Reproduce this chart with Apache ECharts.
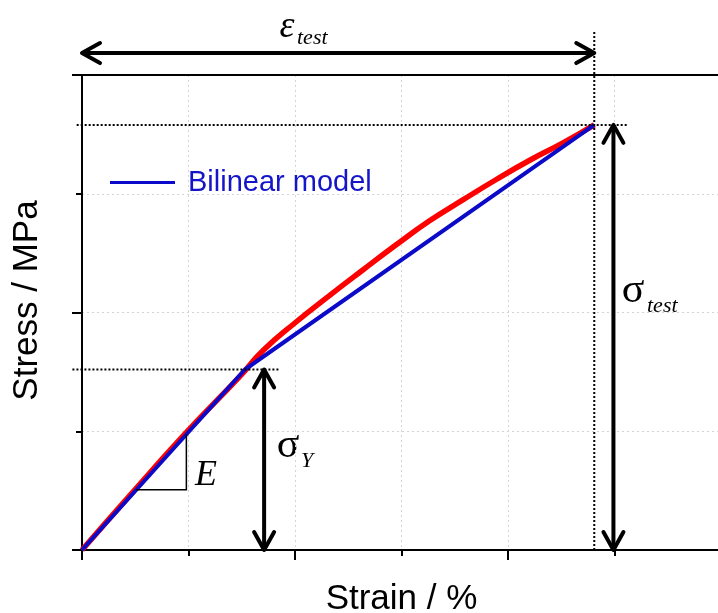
<!DOCTYPE html>
<html>
<head>
<meta charset="utf-8">
<script src="https://cdn.jsdelivr.net/npm/echarts@6/dist/echarts.min.js"></script>
<style>
  html, body { margin: 0; padding: 0; background: #fff; }
  #chart { width: 718px; height: 613px; }
</style>
</head>
<body>
<div id="chart"></div>
<script>
// Measured stress–strain response (strain, stress in plot units)
const measuredStrain = [0, 0.45, 0.98, 1.48, 1.70, 2.01, 2.32, 2.64, 2.95, 3.26, 3.58, 3.89, 4.20, 4.52, 4.81];
const measuredStress = [0, 0.46, 0.99, 1.46, 1.68, 1.92, 2.14, 2.36, 2.57, 2.77, 2.95, 3.12, 3.28, 3.43, 3.58];

// Bilinear model: origin -> yield point -> end of test
const strainYield = 1.53, stressYield = 1.52;
const strainTest = 4.81, stressTest = 3.58;
const modelStrain = [0, strainYield, strainTest];
const modelStress = [0, stressYield, stressTest];

// Annotation placement (data units)
const epsArrowLevel = 4.185;     // height of the ε_test dimension arrow
const sigmaTestArrowX = 4.99;    // x of the σ_test dimension arrow
const sigmaYArrowX = 1.71;       // x of the σ_Y dimension arrow
const slopeStart = 0.51, slopeEnd = 0.98;  // E slope triangle span

const zipPts = (xs, ys) => xs.map((x, i) => [x, ys[i]]);
const E = stressYield / strainYield;

// double-headed dimension arrows: [x1, y1, x2, y2]
const arrows = [
  [0, epsArrowLevel, strainTest, epsArrowLevel],
  [sigmaTestArrowX, 0, sigmaTestArrowX, stressTest],
  [sigmaYArrowX, 0, sigmaYArrowX, stressYield]
];
// dotted guide lines: [x1, y1, x2, y2]
const guides = [
  [-0.05, stressTest, 5.12, stressTest],
  [-0.09, stressYield, 1.86, stressYield],
  [strainTest, 0, strainTest, 4.37]
];
// slope triangle: [x1, y1, x2, y2] along the elastic branch
const triangle = [[slopeStart, E * slopeStart, slopeEnd, E * slopeEnd]];

const chart = echarts.init(document.getElementById('chart'), null, { renderer: 'canvas' });

const gridLine = { color: '#d4d4d4', width: 1, type: [2, 3] };
const blackLine = { color: '#000', width: 2 };
const sansFont = 'Arial, "Liberation Sans", sans-serif';
const serifFont = '"Times New Roman", "Liberation Serif", serif';

function chevron(tip, dir) {
  const L = 18, W = 10;
  const bx = tip[0] - dir[0] * L, by = tip[1] - dir[1] * L;
  const nx = -dir[1], ny = dir[0];
  return {
    type: 'polyline',
    shape: { points: [[bx + nx * W, by + ny * W], tip, [bx - nx * W, by - ny * W]] },
    style: { stroke: '#000', lineWidth: 4, fill: null, lineJoin: 'round', lineCap: 'round' }
  };
}

function renderArrow(params, api) {
  const a = api.coord([api.value(0), api.value(1)]);
  const b = api.coord([api.value(2), api.value(3)]);
  const len = Math.hypot(b[0] - a[0], b[1] - a[1]);
  const d = [(b[0] - a[0]) / len, (b[1] - a[1]) / len];
  return {
    type: 'group',
    children: [
      { type: 'line', shape: { x1: a[0], y1: a[1], x2: b[0], y2: b[1] },
        style: { stroke: '#000', lineWidth: 4 } },
      chevron(b, d),
      chevron(a, [-d[0], -d[1]])
    ]
  };
}

function renderGuide(params, api) {
  const a = api.coord([api.value(0), api.value(1)]);
  const b = api.coord([api.value(2), api.value(3)]);
  return { type: 'line', shape: { x1: a[0], y1: a[1], x2: b[0], y2: b[1] },
    style: { stroke: '#000', lineWidth: 2, lineDash: [2, 2] } };
}

function renderTriangle(params, api) {
  const a = api.coord([api.value(0), api.value(1)]);
  const b = api.coord([api.value(2), api.value(3)]);
  return { type: 'polyline', shape: { points: [a, [b[0], a[1]], b] },
    style: { stroke: '#000', lineWidth: 1.5, fill: null } };
}

const option = {
  animation: false,
  backgroundColor: '#fff',
  grid: { left: 82, top: 75, width: 639, height: 475, containLabel: false, outerBoundsMode: 'none' },
  legend: {
    data: ['Bilinear model'],
    left: 110, top: 168, padding: 0,
    icon: 'rect', itemWidth: 65, itemHeight: 3,
    textStyle: { fontSize: 29, fontFamily: sansFont, color: '#1414c8', padding: [0, 0, 0, 8] }
  },
  xAxis: [
    {
      type: 'value', min: 0, max: 6, interval: 2, position: 'bottom',
      axisLine: { show: true, onZero: false, lineStyle: blackLine },
      axisTick: { show: true, length: 10, lineStyle: blackLine },
      minorTick: { show: true, splitNumber: 2, length: 6, lineStyle: blackLine },
      axisLabel: { show: false },
      splitLine: { show: true, lineStyle: gridLine },
      minorSplitLine: { show: true, lineStyle: gridLine },
      name: 'Strain / %', nameLocation: 'middle', nameGap: 32,
      nameTextStyle: { fontSize: 35, fontFamily: sansFont, color: '#000' }
    },
    {
      type: 'value', min: 0, max: 6, interval: 2, position: 'top',
      axisLine: { show: true, onZero: false, lineStyle: blackLine },
      axisTick: { show: false }, axisLabel: { show: false }, splitLine: { show: false }
    }
  ],
  yAxis: {
    type: 'value', min: 0, max: 4, interval: 2,
    axisLine: { show: true, onZero: false, lineStyle: blackLine },
    axisTick: { show: true, length: 10, lineStyle: blackLine },
    minorTick: { show: true, splitNumber: 2, length: 6, lineStyle: blackLine },
    axisLabel: { show: false },
    splitLine: { show: true, lineStyle: gridLine },
    minorSplitLine: { show: true, lineStyle: gridLine },
    name: 'Stress / MPa', nameLocation: 'middle', nameGap: 37,
    nameTextStyle: { fontSize: 35, fontFamily: sansFont, color: '#000', padding: [0, 0, 0, 24] }
  },
  series: [
    {
      name: 'Measured', type: 'line', data: zipPts(measuredStrain, measuredStress),
      smooth: 0.5, showSymbol: false, symbol: 'none',
      lineStyle: { color: '#ff0000', width: 5.5 }, itemStyle: { color: '#ff0000' }, z: 2
    },
    {
      name: 'Bilinear model', type: 'line', data: zipPts(modelStrain, modelStress),
      showSymbol: false, symbol: 'none',
      lineStyle: { color: '#0a0ac8', width: 4 }, itemStyle: { color: '#0a0ac8' }, z: 3
    },
    { name: 'guides', type: 'custom', renderItem: renderGuide, data: guides, clip: false, z: 4, silent: true },
    { name: 'slope', type: 'custom', renderItem: renderTriangle, data: triangle, clip: false, z: 4, silent: true },
    { name: 'arrows', type: 'custom', renderItem: renderArrow, data: arrows, clip: false, z: 5, silent: true }
  ],
  graphic: [
    { type: 'text', x: 287, y: 27, style: { text: 'ε', font: 'italic 38px ' + serifFont, fill: '#000', align: 'center', verticalAlign: 'middle' } },
    { type: 'text', x: 297, y: 38, style: { text: 'test', font: 'italic 22px ' + serifFont, fill: '#000', align: 'left', verticalAlign: 'middle' } },
    { type: 'text', x: 288, y: 446, style: { text: 'σ', font: '42px ' + serifFont, fill: '#000', align: 'center', verticalAlign: 'middle' } },
    { type: 'text', x: 301, y: 461, style: { text: 'Y', font: 'italic 22px ' + serifFont, fill: '#000', align: 'left', verticalAlign: 'middle' } },
    { type: 'text', x: 633, y: 291, style: { text: 'σ', font: '42px ' + serifFont, fill: '#000', align: 'center', verticalAlign: 'middle' } },
    { type: 'text', x: 647, y: 306, style: { text: 'test', font: 'italic 22px ' + serifFont, fill: '#000', align: 'left', verticalAlign: 'middle' } },
    { type: 'text', x: 206, y: 476, style: { text: 'E', font: 'italic 36px ' + serifFont, fill: '#000', align: 'center', verticalAlign: 'middle' } }
  ]
};

chart.setOption(option);
</script>
</body>
</html>
